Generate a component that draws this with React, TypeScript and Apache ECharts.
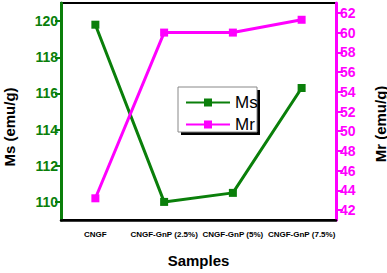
import React, { useEffect, useRef } from "react";
import * as echarts from "echarts";

const categories = ["CNGF", "CNGF-GnP (2.5%)", "CNGF-GnP (5%)", "CNGF-GnP (7.5%)"];
const msValues = [119.8, 110.0, 110.5, 116.3];
const mrValues = [43.2, 60.0, 60.0, 61.3];
const msTicks = [110, 112, 114, 116, 118, 120];
const mrTicks = [42, 44, 46, 48, 50, 52, 54, 56, 58, 60, 62];

const GREEN = "#0a7f0a";
const MAGENTA = "#ff00ff";

export default function App() {
  const ref = useRef<HTMLDivElement>(null);
  useEffect(() => {
    if (!ref.current) return;
    const chart = echarts.init(ref.current, null, { renderer: "svg" });
    const font = "Liberation Sans, Arial, sans-serif";
    chart.setOption({
      animation: false,
      backgroundColor: "#fff",
      grid: {
        left: 61, right: 51, top: 3, bottom: 44,
        show: true, borderColor: "#000", borderWidth: 2, backgroundColor: "transparent",
      },
      legend: {
        orient: "vertical",
        left: 180, top: 89,
        itemWidth: 44, itemHeight: 10, itemGap: 5,
        data: ["Ms", "Mr"],
        textStyle: { fontSize: 17, color: "#000", fontFamily: font },
        z: 10,
      },
      graphic: [
        { type: "rect", shape: { x: 181, y: 90, width: 79, height: 45 }, style: { fill: "#000" }, z: 5 },
        { type: "rect", shape: { x: 178, y: 87, width: 79, height: 45 }, style: { fill: "#fff", stroke: "#888", lineWidth: 1 }, z: 6 },
        { type: "text", x: 9, y: 127, rotation: Math.PI / 2, style: { text: "Ms (emu/g)", fontSize: 15, fontWeight: "bold", fill: "#000", fontFamily: font, align: "center", verticalAlign: "middle" } },
        { type: "text", x: 380, y: 124, rotation: Math.PI / 2, style: { text: "Mr (emu/g)", fontSize: 15, fontWeight: "bold", fill: "#000", fontFamily: font, align: "center", verticalAlign: "middle" } },
      ],
      xAxis: {
        type: "category",
        data: categories,
        boundaryGap: true,
        name: "Samples",
        nameLocation: "middle",
        nameGap: 33,
        nameTextStyle: { fontSize: 15, fontWeight: "bold", color: "#000", fontFamily: font },
        axisLine: { lineStyle: { color: "#000", width: 2.5 } },
        axisTick: { alignWithLabel: true, length: 7, lineStyle: { color: "#000", width: 2 } },
        axisLabel: { fontSize: 8, fontWeight: "bold", color: "#000", fontFamily: font, margin: 10, interval: 0 },
        splitLine: { show: false },
      },
      yAxis: [
        {
          type: "value", min: 109, max: 121,
          axisLine: { show: true, lineStyle: { color: GREEN, width: 3 } },
          axisTick: { show: true, length: 6, lineStyle: { color: GREEN, width: 2 }, customValues: msTicks },
          axisLabel: {
            fontSize: 14, fontWeight: "bold", color: GREEN, fontFamily: font, margin: 3,
            customValues: msTicks,
          },
          splitLine: { show: false },
        },
        {
          type: "value", min: 41, max: 63, position: "right",
          axisLine: { show: true, lineStyle: { color: MAGENTA, width: 3 } },
          axisTick: { show: true, length: 7, lineStyle: { color: MAGENTA, width: 2 }, customValues: mrTicks },
          axisLabel: {
            fontSize: 14, fontWeight: "bold", color: MAGENTA, fontFamily: font, margin: 4,
            customValues: mrTicks,
          },
          splitLine: { show: false },
        },
      ],
      series: [
        {
          name: "Ms", type: "line", data: msValues, yAxisIndex: 0,
          symbol: "rect", symbolSize: 8,
          lineStyle: { color: GREEN, width: 3 },
          itemStyle: { color: GREEN },
        },
        {
          name: "Mr", type: "line", data: mrValues, yAxisIndex: 1,
          symbol: "rect", symbolSize: 8,
          lineStyle: { color: MAGENTA, width: 3 },
          itemStyle: { color: MAGENTA },
        },
      ],
    });
    return () => chart.dispose();
  }, []);
  return <div ref={ref} style={{ width: 387, height: 273, position: "absolute", left: 0, top: 0 }} />;
}
